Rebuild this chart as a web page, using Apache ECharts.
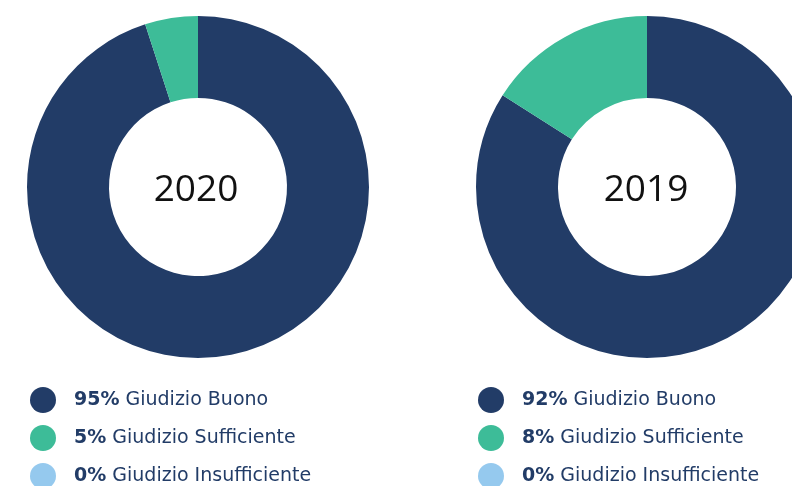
<!DOCTYPE html>
<html>
<head>
<meta charset="utf-8">
<script src="https://cdn.jsdelivr.net/npm/echarts@6/dist/echarts.min.js"></script>
<style>
  html, body { margin: 0; padding: 0; background: #fff; }
  #chart { width: 792px; height: 486px; }
</style>
</head>
<body>
<div id="chart"></div>
<script>
// categorie e valori
const categories = ["Giudizio Buono", "Giudizio Sufficiente", "Giudizio Insufficiente"];
const years = ["2020", "2019"];
// valori delle fette
const values2020 = [95, 5, 0];
const values2019 = [84, 16, 0];
// percentuali scritte nella legenda
const labels2020 = ["95%", "5%", "0%"];
const labels2019 = ["92%", "8%", "0%"];

const colors = ["#223c67", "#3dbc98", "#95c9ee"];
const textColor = "#223c67";

const myChart = echarts.init(document.getElementById("chart"));

function makeSeries(vals, cx) {
  return {
    type: "pie",
    radius: [89, 171],
    center: [cx, 187],
    startAngle: 90,
    clockwise: true,
    silent: true,
    label: { show: false },
    labelLine: { show: false },
    emphasis: { disabled: true },
    itemStyle: { borderWidth: 0 },
    data: categories.map((c, i) => ({ name: c, value: vals[i] })),
  };
}

function makeLegend(left, labels) {
  return {
    orient: "vertical",
    left: left,
    top: 387,
    height: 200,
    padding: 0,
    icon: "circle",
    itemWidth: 26,
    itemHeight: 26,
    itemGap: 12,
    selectedMode: false,
    data: categories,
    formatter: (name) => {
      const i = categories.indexOf(name);
      return "{p|" + labels[i] + "}{t| " + name + "}";
    },
    textStyle: {
      rich: {
        p: { fontFamily: "DejaVu Sans", fontWeight: "bold", fontSize: 19, color: textColor, padding: [0, 0, 0, 13] },
        t: { fontFamily: "DejaVu Sans", fontSize: 19, color: textColor },
      },
    },
  };
}

const option = {
  backgroundColor: "#fff",
  color: colors,
  animation: false,
  title: [
    {
      text: years[0], left: 191, top: 185, textAlign: "center", textVerticalAlign: "middle",
      textStyle: { fontFamily: "Open Sans", fontWeight: "normal", fontSize: 37, color: "#111" },
    },
    {
      text: years[1], left: 641, top: 185, textAlign: "center", textVerticalAlign: "middle",
      textStyle: { fontFamily: "Open Sans", fontWeight: "normal", fontSize: 37, color: "#111" },
    },
  ],
  legend: [makeLegend(30, labels2020), makeLegend(478, labels2019)],
  series: [makeSeries(values2020, 198), makeSeries(values2019, 647)],
};

myChart.setOption(option);
</script>
</body>
</html>
